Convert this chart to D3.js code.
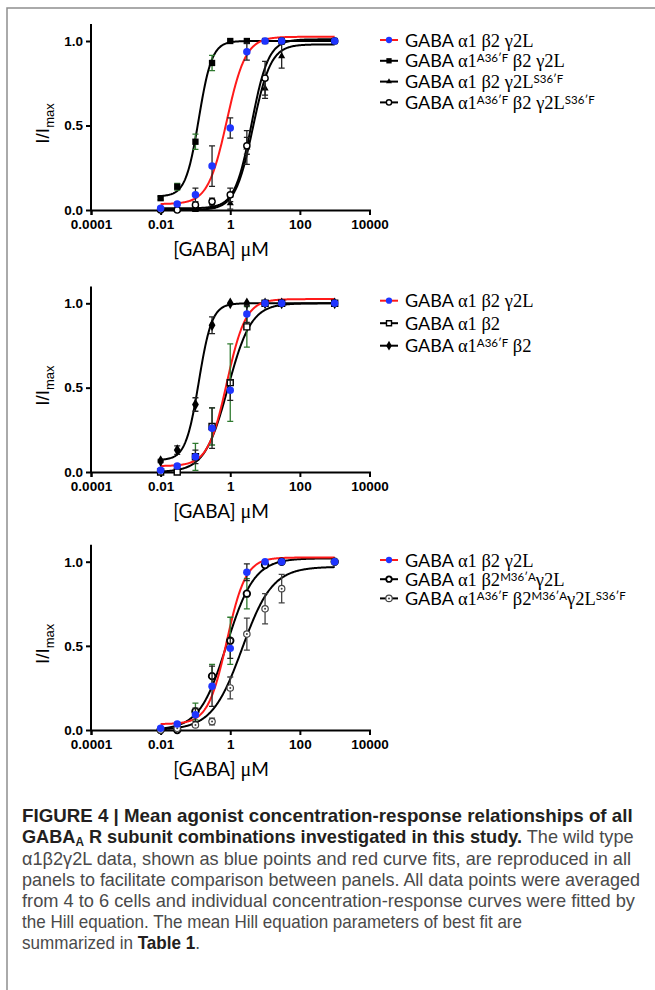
<!DOCTYPE html>
<html><head><meta charset="utf-8">
<script src="https://cdn.jsdelivr.net/npm/d3@7"></script>
<style>body{margin:0;background:#fff}svg{display:block}</style>
</head><body>
<svg id="chart" width="655" height="990"></svg>
<script>
// ---------- DATA ----------
const concentrations = [0.01, 0.03, 0.1, 0.3, 1, 3, 10, 30, 1000];
const xTickValues = [0.0001, 0.01, 1, 100, 10000];
const xTickLabels = ["0.0001", "0.01", "1", "100", "10000"];
const yTickValues = [0, 0.5, 1.0];
const yTickLabels = ["0.0", "0.5", "1.0"];

// wild type a1 b2 g2L (blue points, red fit)
const wtValues = [0.01, 0.035, 0.09, 0.26, 0.485, 0.937, 1.0, 1.0, 1.0];
const wtErrors = [0.005, 0.01, 0.04, 0.12, 0.06, 0.05, 0.005, 0.005, 0];
const wtFit = [0.035, 1.025, 0.8, 1.6];           // bottom, top, EC50, nH

// Panel A
const a36fValues = [0.07, 0.138, 0.404, 0.87, 1.0, 1.0, 1.0, 1.0, 1.0];
const a36fErrors = [0.01, 0.02, 0.045, 0.045, 0.005, 0.005, 0, 0, 0];
const a36fFit = [0.08, 1.0, 0.125, 2.3];
const s36fValues = [0.0, 0.0, 0.0, 0.02, 0.04, 0.37, 0.72, 0.91, 1.0];
const s36fErrors = [0, 0, 0.005, 0.01, 0.035, 0.1, 0.06, 0.07, 0];
const s36fFit = [0.0, 0.98, 4.5, 1.7];
const a36fS36fValues = [0.0, 0.0, 0.03, 0.05, 0.09, 0.38, 0.78, 1.0, 1.0];
const a36fS36fErrors = [0, 0, 0.01, 0.02, 0.04, 0.05, 0.1, 0.01, 0];
const a36fS36fFit = [0.01, 1.01, 4.1, 1.8];

// Panel B
const a1b2Values = [0.0, 0.0, 0.09, 0.27, 0.53, 0.86, 1.0, 1.0, 1.0];
const a1b2Errors = [0, 0.005, 0.08, 0.11, 0.23, 0.12, 0.005, 0, 0];
const a1b2Fit = [0.0, 1.0, 0.86, 1.3];
const a36fb2Values = [0.065, 0.13, 0.40, 0.87, 1.0, 1.0, 1.0, 1.0, 1.0];
const a36fb2Errors = [0.01, 0.025, 0.04, 0.05, 0.005, 0, 0, 0, 0];
const a36fb2Fit = [0.07, 1.0, 0.125, 2.3];

// Panel C
const m36aValues = [0.0, 0.0, 0.11, 0.32, 0.53, 0.81, 0.98, 1.0, 1.0];
const m36aErrors = [0, 0.005, 0.05, 0.07, 0.14, 0.09, 0.01, 0, 0];
const m36aFit = [0.0, 1.02, 0.8, 1.1];
const tripleValues = [0.0, 0.01, 0.03, 0.05, 0.25, 0.57, 0.72, 0.84, 1.0];
const tripleErrors = [0, 0.005, 0.01, 0.02, 0.065, 0.095, 0.09, 0.085, 0];
const tripleFit = [0.0, 0.97, 2.2, 1.0];

// ---------- STYLE / LAYOUT ----------
const BLUE = "#1f35ff", RED = "#ff1a1a", GREEN = "#2f7a2f";
const wtSeries = {values: wtValues, errors: wtErrors, fit: wtFit, symbol: "circle", fill: BLUE, stroke: "none", size: 44, curve: RED, errColor: "#222",
  label: [["GABA "], ["α1", "g"], [" "], ["β2", "g"], [" "], ["γ2L", "g"]]};

const panels = [
  {y0: 210, y1: 41, legendY: 40, legendStep: 20.8, series: [
    {values: a36fValues, errors: a36fErrors, fit: a36fFit, symbol: "square", fill: "#000", stroke: "none", size: 40, curve: "#000", errColor: GREEN,
      label: [["GABA "], ["α1", "g"], ["A36′F", "sup"], [" "], ["β2", "g"], [" "], ["γ2L", "g"]]},
    {values: s36fValues, errors: s36fErrors, fit: s36fFit, symbol: "triangle", fill: "#000", stroke: "none", size: 22, curve: "#000", errColor: "#222",
      label: [["GABA "], ["α1", "g"], [" "], ["β2", "g"], [" "], ["γ2L", "g"], ["S36′F", "sup"]]},
    {values: a36fS36fValues, errors: a36fS36fErrors, fit: a36fS36fFit, symbol: "circle", fill: "#fff", stroke: "#000", size: 30, curve: "#000", errColor: "#222",
      label: [["GABA "], ["α1", "g"], ["A36′F", "sup"], [" "], ["β2", "g"], [" "], ["γ2L", "g"], ["S36′F", "sup"]]}
  ]},
  {y0: 472, y1: 303.3, legendY: 300.7, legendStep: 22.5, series: [
    {values: a1b2Values, errors: a1b2Errors, fit: a1b2Fit, symbol: "square", fill: "#fff", stroke: "#000", size: 36, curve: "#000", errColor: GREEN,
      label: [["GABA "], ["α1", "g"], [" "], ["β2", "g"]]},
    {values: a36fb2Values, errors: a36fb2Errors, fit: a36fb2Fit, symbol: "diamond", fill: "#000", stroke: "none", size: 40, curve: "#000", errColor: "#222",
      label: [["GABA "], ["α1", "g"], ["A36′F", "sup"], [" "], ["β2", "g"]]}
  ]},
  {y0: 730, y1: 561.7, legendY: 560, legendStep: 19.2, series: [
    {values: m36aValues, errors: m36aErrors, fit: m36aFit, symbol: "circle", fill: "#fff", stroke: "#000", size: 34, strokeWidth: 1.8, curve: "#000", errColor: GREEN,
      label: [["GABA "], ["α1", "g"], [" "], ["β2", "g"], ["M36′A", "sup"], ["γ2L", "g"]]},
    {values: tripleValues, errors: tripleErrors, fit: tripleFit, symbol: "dotcircle", fill: "#fff", stroke: "#444", size: 30, curve: "#000", errColor: "#444",
      label: [["GABA "], ["α1", "g"], ["A36′F", "sup"], [" "], ["β2", "g"], ["M36′A", "sup"], ["γ2L", "g"], ["S36′F", "sup"]]}
  ]}
];

const svg = d3.select("#chart");
svg.append("rect").attr("width", 655).attr("height", 990).attr("fill", "#fff");
// frame
svg.append("path").attr("d", "M7,990 V8 H655").attr("fill", "none").attr("stroke", "#8f8f8f").attr("stroke-width", 1.5);

const hill = (p, x) => p[0] + (p[1] - p[0]) / (1 + Math.pow(p[2] / x, p[3]));
const fitXs = d3.range(0, 301).map(i => Math.pow(10, -2 + 5 * i / 300));

const x = d3.scaleLog().domain([1e-4, 1e4]).range([91, 369.5]);
const SANS = "'Liberation Sans', Arial, sans-serif";
const LEG = "Lato, 'Open Sans', sans-serif";
const GREEK = "'Liberation Serif', 'DejaVu Serif', serif";

function drawMarker(g, s, cx, cy, size) {
  const sz = size || s.size;
  if (s.symbol === "dotcircle") {
    g.append("circle").attr("cx", cx).attr("cy", cy).attr("r", 3.2).attr("fill", "#fff").attr("stroke", s.stroke).attr("stroke-width", 1.2);
    g.append("circle").attr("cx", cx).attr("cy", cy).attr("r", 1).attr("fill", s.stroke);
    return;
  }
  const typ = {circle: d3.symbolCircle, square: d3.symbolSquare, triangle: d3.symbolTriangle, diamond: d3.symbolDiamond}[s.symbol];
  g.append("path").attr("d", d3.symbol().type(typ).size(sz)())
    .attr("transform", `translate(${cx},${cy})`)
    .attr("fill", s.fill).attr("stroke", s.stroke === "none" ? null : s.stroke)
    .attr("stroke-width", s.strokeWidth || 1.4);
}

function addLabel(textSel, parts) {
  parts.forEach(([t, kind]) => {
    const ts = textSel.append("tspan").text(t);
    if (kind === "g") ts.attr("font-family", GREEK).attr("font-size", 18.5);
    if (kind === "sup") ts.attr("font-size", 11.5).attr("baseline-shift", "45%");
  });
}

panels.forEach((P, pi) => {
  const y = d3.scaleLinear().domain([0, 1]).range([P.y0, P.y1]);
  const g = svg.append("g");
  const allSeries = P.series.concat([wtSeries]);

  // axes
  const yAx = g.append("g").attr("transform", "translate(91,0)")
    .call(d3.axisLeft(y).tickValues(yTickValues).tickFormat((d, i) => yTickLabels[i]).tickSize(5).tickPadding(3));
  yAx.select(".domain").attr("d", `M0,${y(1.1)}V${y(0)}`);
  const xAx = g.append("g").attr("transform", `translate(0,${P.y0})`)
    .call(d3.axisBottom(x).tickValues(xTickValues).tickFormat((d, i) => xTickLabels[i]).tickSize(5).tickPadding(4));
  [yAx, xAx].forEach(a => {
    a.select(".domain").attr("stroke", "#000").attr("stroke-width", 2);
    a.selectAll(".tick line").attr("stroke", "#000").attr("stroke-width", 2);
    a.selectAll(".tick text").attr("fill", "#000").attr("font-family", SANS).attr("font-weight", "bold").attr("font-size", 13.5);
  });

  // axis titles
  const yl = g.append("text").attr("transform", `translate(49,${(P.y0 + P.y1) / 2 - 2}) rotate(-90)`)
    .attr("text-anchor", "middle").attr("font-family", SANS).attr("font-size", 19).attr("fill", "#000");
  yl.append("tspan").text("I/I");
  yl.append("tspan").text("max").attr("font-size", 13).attr("dy", 5);
  const xl = g.append("text").attr("x", 221).attr("y", P.y0 + 46).attr("text-anchor", "middle")
    .attr("font-family", LEG).attr("font-size", 19).attr("fill", "#000");
  xl.append("tspan").text("[GABA] ");
  xl.append("tspan").text("μ").attr("font-family", GREEK).attr("font-size", 20);
  xl.append("tspan").text("M");

  // series
  allSeries.forEach(s => {
    const line = d3.line().x(d => x(d)).y(d => y(hill(s.fit, d)));
    g.append("path").datum(fitXs).attr("d", line).attr("fill", "none").attr("stroke", s.curve).attr("stroke-width", 2);
  });
  allSeries.forEach(s => {
    const eg = g.append("g").attr("stroke", s.errColor).attr("stroke-width", 1.3).attr("fill", "none");
    concentrations.forEach((c, i) => {
      const e = s.errors[i];
      if (!e || e < 0.008) return;
      const cx = x(c), ya = y(s.values[i] + e), yb = y(s.values[i] - e);
      eg.append("path").attr("d", `M${cx},${ya}V${yb}M${cx - 3},${ya}H${cx + 3}M${cx - 3},${yb}H${cx + 3}`);
    });
    const mg = g.append("g");
    concentrations.forEach((c, i) => drawMarker(mg, s, x(c), y(s.values[i])));
  });

  // legend
  const legendOrder = [wtSeries].concat(P.series);
  legendOrder.forEach((s, i) => {
    const ly = P.legendY + i * P.legendStep;
    g.append("line").attr("x1", 380).attr("x2", 398).attr("y1", ly).attr("y2", ly)
      .attr("stroke", s.curve).attr("stroke-width", 2);
    drawMarker(g, s, 389, ly, s.size * 0.7);
    const t = g.append("text").attr("x", 405).attr("y", ly + 6.5).attr("font-family", LEG).attr("font-size", 18).attr("fill", "#000");
    addLabel(t, s.label);
  });
});

// ---------- CAPTION ----------
const CAP = "'Liberation Sans Narrow', 'Liberation Sans', Arial, sans-serif";
const capLines = [
  {y: 821.7, len: 610.6, parts: [["FIGURE 4 | Mean agonist concentration-response relationships of all", "b"]]},
  {y: 843.2, len: 611.6, parts: [["GABA", "b"], ["A", "bsub"], [" R subunit combinations investigated in this study.", "b"], [" The wild type", "r"]]},
  {y: 864.6, len: 609, parts: [["α1β2γ2L data, shown as blue points and red curve fits, are reproduced in all", "r"]]},
  {y: 885.9, len: 618, parts: [["panels to facilitate comparison between panels. All data points were averaged", "r"]]},
  {y: 907.0, len: 613, parts: [["from 4 to 6 cells and individual concentration-response curves were fitted by", "r"]]},
  {y: 928.0, len: 500, parts: [["the Hill equation. The mean Hill equation parameters of best fit are", "r"]]},
  {y: 949.0, len: 178, parts: [["summarized in ", "r"], ["Table 1", "b"], [".", "r"]]}
];
capLines.forEach(L => {
  const t = svg.append("text").attr("x", 22).attr("y", L.y).attr("font-family", CAP).attr("font-size", 18.5)
    .attr("textLength", L.len).attr("lengthAdjust", "spacingAndGlyphs");
  L.parts.forEach(([str, k]) => {
    const ts = t.append("tspan").text(str);
    if (k === "b") ts.attr("font-weight", "bold").attr("fill", "#231f20");
    else if (k === "bsub") ts.attr("font-weight", "bold").attr("fill", "#231f20").attr("font-size", 12).attr("baseline-shift", "-25%");
    else ts.attr("fill", "#4a4a4a");
  });
});
</script>
</body></html>
